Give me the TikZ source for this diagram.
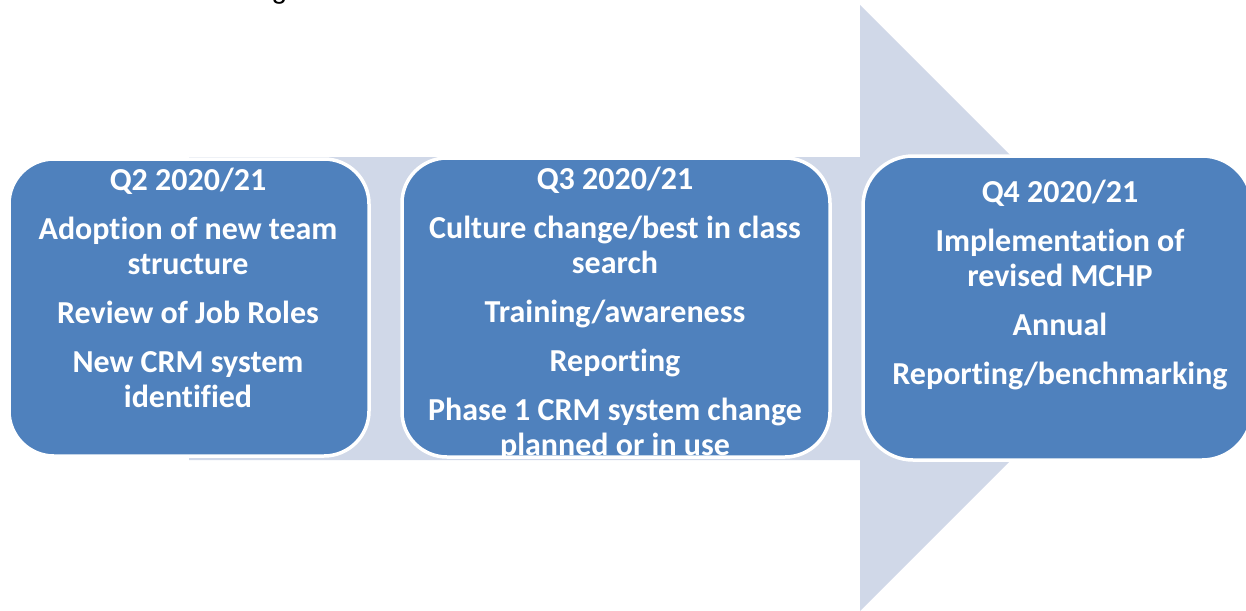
\documentclass[tikz,border=0pt]{standalone}
\usepackage{fontspec}
\setmainfont{Carlito}[Ligatures=NoCommon]
\newfontfamily\headfont{Liberation Sans}
\usetikzlibrary{positioning}
\definecolor{stageblue}{HTML}{4F81BD}
\definecolor{arrowgrey}{HTML}{D0D8E8}

\begin{document}
\begin{tikzpicture}
	[x=1pt, y=-1pt,
	stage/.style={rectangle, rounded corners=45pt, fill=stageblue, draw=white, line width=3.5pt, inner sep=0pt},
	stagetext/.style={text=white, font=\fontsize{32}{35}\selectfont\bfseries, align=center, inner sep=0pt}]
	\path[use as bounding box, clip] (0,0) rectangle (1246,610);
	\node[font=\headfont\fontsize{28}{32}\selectfont, anchor=base, inner sep=0pt] (head) at (279.5,-1) {g};
	% arrow behind the stages
	\fill[arrowgrey] (189,157) -- (860,157) -- (860,5) -- (1163,308) -- (860,611) -- (860,460) -- (189,460) -- cycle;
	\node[stage, minimum width=360pt, minimum height=297pt] (q2) at (189,307.5) {};
	\node[stage, minimum width=428pt, minimum height=299pt] (q3) at (616,307.5) {};
	\node[stage, rounded corners=50pt, minimum width=389pt, minimum height=304pt] (q4) at (1057.5,308) {};
	\node[stagetext] (q2text) at (188,287.5) {Q2 2020/21\\[14pt]
		Adoption of new team\\ structure\\[14pt]
		Review of Job Roles\\[14pt]
		New CRM system\\ identified};
	\begin{scope}
		\path[clip, rounded corners=45pt] (q3.south west) rectangle (q3.north east);
		\node[stagetext] (q3text) at (615,314) {Q3 2020/21\\[14pt]
			Culture change/best in class\\ search\\[14pt]
			Training/awareness\\[14pt]
			Reporting\\[14pt]
			Phase 1 CRM system change\\ planned or in use};
	\end{scope}
	\node[stagetext] (q4text) at (1060,285) {Q4 2020/21\\[14pt]
		Implementation of\\ revised MCHP\\[14pt]
		Annual\\[14pt]
		Reporting/benchmarking};
\end{tikzpicture}
\end{document}
